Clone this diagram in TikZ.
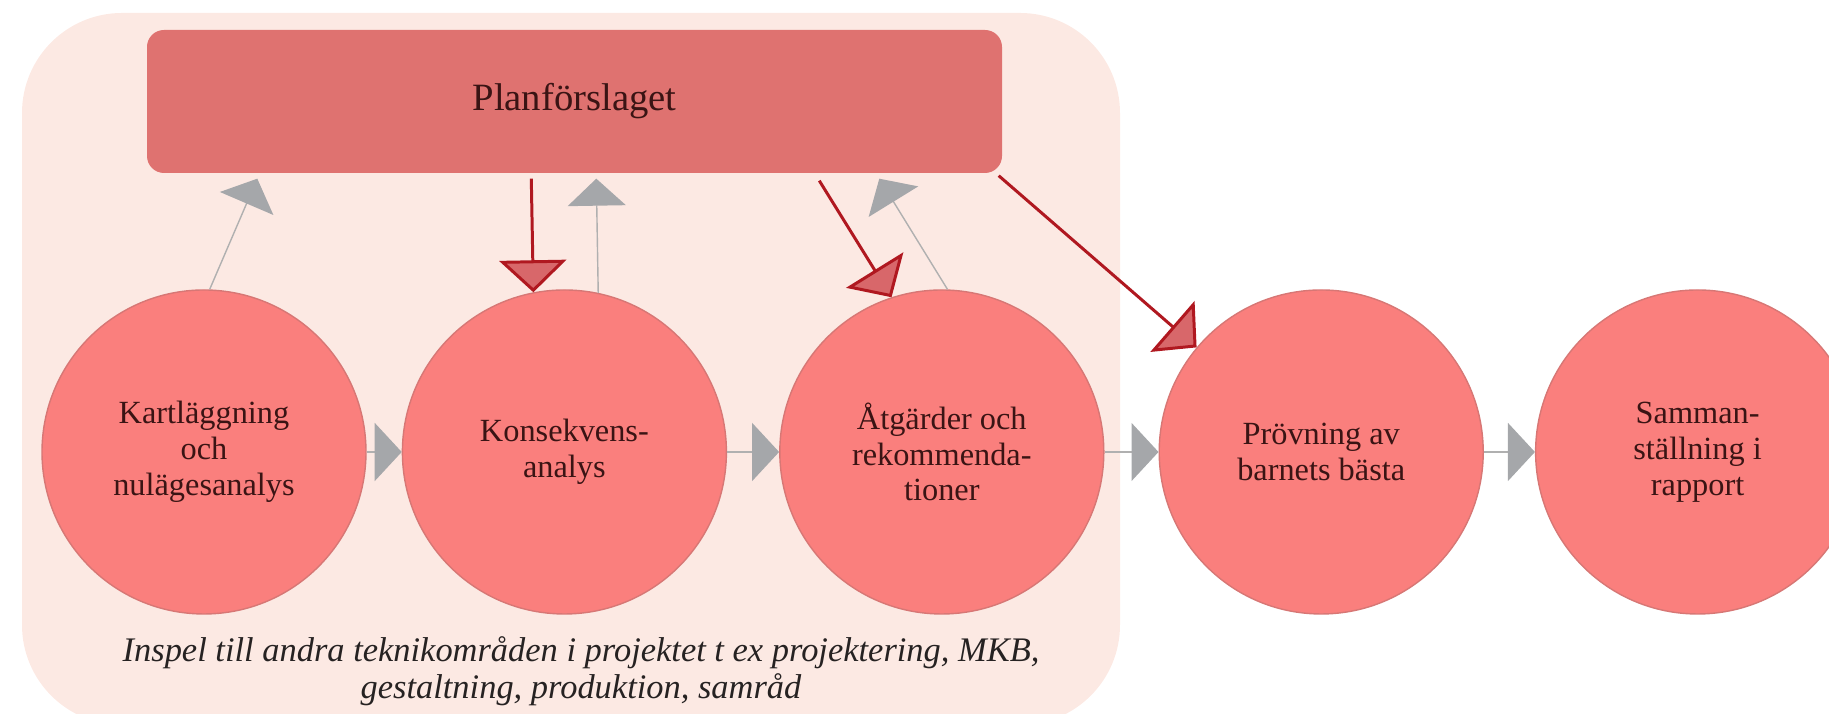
\documentclass[tikz,border=0pt]{standalone}
\usepackage{fontspec}
\setmainfont{Liberation Serif}
\usepackage{xcolor}
\usepackage{tikz}
\usetikzlibrary{arrows.meta}
\usetikzlibrary{positioning}

\definecolor{bgpink}{HTML}{FCE9E3}
\definecolor{planfill}{HTML}{DF7270}
\definecolor{circfill}{HTML}{FA7F7D}
\definecolor{circline}{HTML}{D77775}
\definecolor{textcol}{HTML}{3A1414}
\definecolor{notecol}{HTML}{262222}
\definecolor{grayline}{HTML}{B0B0B0}
\definecolor{graytip}{HTML}{A5A7AA}
\definecolor{redline}{HTML}{B01820}
\definecolor{redhead}{HTML}{D8676A}

\begin{document}
\begin{tikzpicture}[
    phase/.style={circle, minimum size=3.24cm, inner sep=0pt, fill=circfill,
      draw=circline, line width=0.4pt, align=center, text=textcol,
      font=\fontsize{9.2}{10.2}\selectfont},
    flow/.style={draw=grayline, line width=0.4pt,
      -{Triangle[length=2.7mm, width=5.8mm, color=graytip]}},
    feed/.style={draw=redline, line width=0.85pt,
      -{Triangle[length=3.2mm, width=6.7mm, fill=redhead]}}
  ]

    \clip (0, 0) rectangle (18.29, 7.14);

    % shaded area behind the first steps
    \fill [bgpink, rounded corners=1cm] (0.22, -0.11) rectangle (11.20, 7.01);

    \node [fill=planfill, rounded corners=0.17cm, minimum width=8.55cm,
      minimum height=1.43cm, text=textcol, font=\fontsize{11}{13}\selectfont]
      (plan) at (5.745, 6.125) {Planförslaget};

    \node [phase] (kart) at (2.04, 2.62) {Kartläggning\\och\\nulägesanalys};
    \node [phase, right=0.35cm of kart] (kons) {Konsekvens-\\analys};
    \node [phase, right=0.52cm of kons] (atg) {Åtgärder och\\rekommenda-\\tioner};
    \node [phase, right=0.54cm of atg] (prov) {Prövning av\\barnets bästa};
    \node [phase, right=0.51cm of prov] (samm) {Samman-\\ställning i\\rapport};

    \node [align=center, text=notecol, font=\fontsize{9.8}{10.5}\selectfont\itshape]
      (note) at (5.81, 0.43)
      {Inspel till andra teknikområden i projektet t ex projektering, MKB,\\
        gestaltning, produktion, samråd};

    \draw [flow] (kart) -- (kons);
    \draw [flow] (kons) -- (atg);
    \draw [flow] (atg) -- (prov);
    \draw [flow] (prov) -- (samm);

    \draw [flow] (kart.88) -- ([shift={(1.11, -0.05)}]plan.south west);
    \draw [flow] (kons.78) -- ([shift={(4.50, -0.05)}]plan.south west);
    \draw [flow] (atg.88) -- ([shift={(7.33, -0.05)}]plan.south west);

    \draw [feed] ([shift={(3.85, -0.05)}]plan.south west) -- (kons.101);
    \draw [feed] ([shift={(6.73, -0.07)}]plan.south west) -- (atg.108);
    \draw [feed] ([shift={(-0.04, -0.02)}]plan.south east) -- (prov.140);

  \end{tikzpicture}
\end{document}
